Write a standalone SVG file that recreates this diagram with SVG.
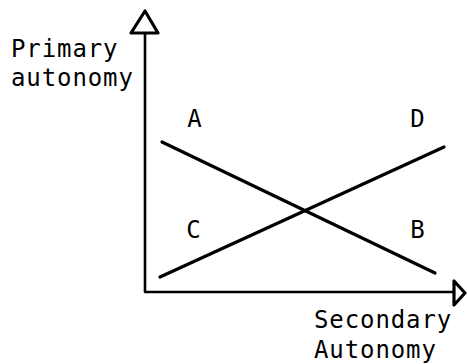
<svg xmlns="http://www.w3.org/2000/svg" width="467" height="364" viewBox="0 0 467 364">
<style>
.t{font-family:"DejaVu Sans Mono","Liberation Mono",monospace;font-size:24px;fill:#000;letter-spacing:0.9px}
.ax{stroke:#000;stroke-width:2.6;fill:none;stroke-linecap:round;stroke-linejoin:round}
.ah{stroke:#000;stroke-width:3.2;fill:#fff;stroke-linejoin:round}
.ln{stroke:#000;stroke-width:3.2;stroke-linecap:round}
</style>
<rect width="467" height="364" fill="#fff"/>
<g id="axes">
<path class="ax" d="M145,32 V292 H455"/>
<polygon class="ah" points="145,11 131,33 158,33"/>
<polygon class="ah" points="465,293 454,281 454,305"/>
</g>
<g id="connectors">
<line class="ln" x1="162" y1="142" x2="435" y2="273"/>
<line class="ln" x1="160" y1="277" x2="444" y2="147"/>
</g>
<g id="label-primary"><text class="t" x="11" y="57">Primary</text><text class="t" x="11" y="86">autonomy</text></g>
<g id="label-secondary"><text class="t" x="314" y="328">Secondary</text><text class="t" x="314" y="358">Autonomy</text></g>
<g id="A"><text class="t" x="195" y="127" text-anchor="middle">A</text></g>
<g id="D"><text class="t" x="418" y="127" text-anchor="middle">D</text></g>
<g id="C"><text class="t" x="194" y="238" text-anchor="middle">C</text></g>
<g id="B"><text class="t" x="418" y="238" text-anchor="middle">B</text></g>
</svg>
